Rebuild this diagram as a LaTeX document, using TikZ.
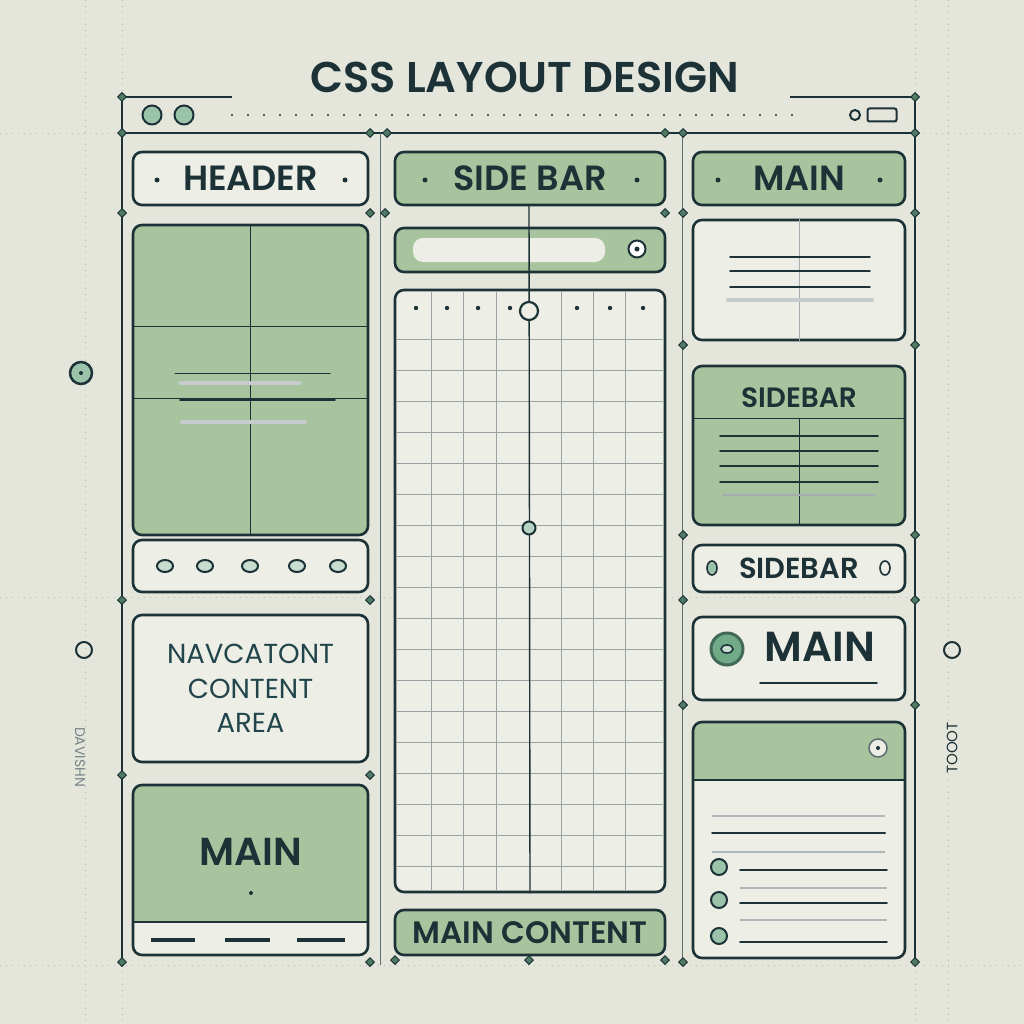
\documentclass[tikz,border=0pt]{standalone}
\usepackage{fontspec}
\setmainfont{Poppins}[BoldFont={* SemiBold}]
\usetikzlibrary{positioning, shapes.geometric, backgrounds, calc}
\definecolor{paper}{RGB}{228,230,220}
\definecolor{panelw}{RGB}{237,238,230}
\definecolor{sage}{RGB}{168,196,158}
\definecolor{ink}{RGB}{28,50,54}
\definecolor{leaf}{RGB}{112,170,134}
\definecolor{tealtxt}{RGB}{33,69,74}

\tikzset{
  box/.style={draw=ink, line width=2.6pt, rounded corners=9pt, inner sep=0pt},
  wbox/.style={box, fill=panelw},
  gbox/.style={box, fill=sage},
  lbl/.style={text=ink, font=\bfseries\fontsize{#1}{#1}\selectfont},
  guide/.style={gray!55, line width=0.8pt, dash pattern=on 1pt off 5pt},
  pin/.style={diamond, draw=ink, fill=leaf!60!ink, minimum size=9pt, inner sep=0pt, line width=1pt},
  bullet/.style={circle, draw=ink, fill=leaf!70, line width=2pt, minimum size=16pt, inner sep=0pt},
  txtline/.style={ink, line width=1.6pt, line cap=round},
  blurline/.style={ink!25, line width=4pt, line cap=round}
}

\begin{document}
\begin{tikzpicture}[x=1pt, y=-1pt]
  \fill[paper] (0,0) rectangle (1024,1024);
  \useasboundingbox (0,0) rectangle (1024,1024);

  % Guides
  \foreach \gx in {85,122,915,948} \draw[guide] (\gx,0) -- (\gx,1024);
  \foreach \gy in {133,597,965} \draw[guide] (0,\gy) -- (1024,\gy);

  % Frame
  \draw[ink, line width=1.6pt] (122,97) -- (122,965) (915,97) -- (915,965);
  \draw[ink, line width=2.4pt] (122,97) -- (232,97) (790,97) -- (915,97);
  \draw[ink, line width=2.2pt] (122,133) -- (915,133);
  \draw[ink!70, line width=1pt] (380,133) -- (380,965) (682,133) -- (682,965);
  \node[lbl=43] (title) at (525,77) {CSS LAYOUT DESIGN};

  % Browser bar
  \node[bullet, minimum size=19pt] (win1) at (152,115) {};
  \node[bullet, minimum size=19pt] (win2) at (184,115) {};
  \draw[ink, line width=2.2pt, dash pattern=on 0pt off 16pt, line cap=round] (232,115) -- (800,115);
  \node[circle, draw=ink, line width=2pt, minimum size=10pt, inner sep=0pt] (reload) at (855,115) {};
  \node[draw=ink, line width=2pt, rounded corners=2pt, minimum width=29pt, minimum height=13pt, inner sep=0pt] (tabs) at (882,115) {};

  % Left column
  \node[wbox, minimum width=235pt, minimum height=53pt, lbl=35] (header) at (250.5,178.5) {HEADER};
  \fill[ink] (157,180) circle (2.5) (345,180) circle (2.5);
  \node[gbox, minimum width=235pt, minimum height=310pt] (hero) at (250.5,380) {};
  \draw[ink, line width=0.8pt] (hero.north) -- (hero.south) (133,326) -- (368,326) (133,398) -- (368,398);
  \draw[txtline, line width=1pt] (175,373) -- (330,373);
  \draw[blurline] (180,383) -- (300,383);
  \draw[txtline] (180,400) -- (335,400);
  \draw[blurline] (182,422) -- (305,422);
  \node[wbox, minimum width=235pt, minimum height=52pt] (toolbar) at (250.5,566) {};
  \foreach \ix [count=\k] in {165,205,250,297,338}
    \node[ellipse, draw=ink, fill=leaf!40, line width=2pt, minimum width=16pt, minimum height=12pt, inner sep=0pt] (tool\k) at (\ix,566) {};
  \node[wbox, minimum width=235pt, minimum height=147pt, align=center, text=tealtxt,
    font=\fontsize{27.5}{34.5}\selectfont] (nav) at (250.5,688.5) {NAVCATONT\\CONTENT\\AREA};
  \begin{scope}
    \clip[rounded corners=9pt] (133,785) rectangle (368,955);
    \fill[panelw] (133,785) rectangle (368,955);
    \fill[sage] (133,785) rectangle (368,922);
  \end{scope}
  \node[box, minimum width=235pt, minimum height=170pt] (leftmain) at (250.5,870) {};
  \draw[ink, line width=2.2pt] (133,922) -- (368,922);
  \node[lbl=39] (leftmaintxt) at (251,852) {MAIN};
  \fill[ink] (251,893) circle (2);
  \foreach \a/\b in {151/195,225/270,297/345} \draw[ink, line width=3.5pt] (\a,940) -- (\b,940);

  % Middle column
  \node[gbox, minimum width=270pt, minimum height=53pt, lbl=35] (sidehdr) at (530,178.5) {SIDE BAR};
  \fill[ink] (425,180) circle (2.5) (637,180) circle (2.5);
  \node[gbox, minimum width=270pt, minimum height=44pt] (search) at (530,250) {};
  \fill[panelw, rounded corners=10pt] (413,238) rectangle (605,262);
  \node[circle, draw=ink, fill=white, line width=2pt, minimum size=17pt, inner sep=0pt] (go) at (637,249) {};
  \fill[ink] (go) circle (2.5);
  \node[wbox, minimum width=270pt, minimum height=602pt] (grid) at (530,591) {};
  \foreach \cx in {431,463,496,561,593,625} \draw[ink!45, line width=0.7pt] (\cx,292) -- (\cx,890);
  \foreach \r in {0,...,17} \draw[ink!45, line width=0.7pt] (397,339+31*\r) -- (663,339+31*\r);
  \foreach \dx in {416,447,478,510,577,610,643} \fill[ink] (\dx,308) circle (2.2);
  \draw[ink, line width=1.4pt] (529,205) -- (grid.south);
  \node[circle, draw=ink, fill=panelw, line width=2.2pt, minimum size=18pt, inner sep=0pt] (gridtop) at (529,311) {};
  \node[circle, draw=ink, fill=leaf!50, line width=2pt, minimum size=13pt, inner sep=0pt] (gridmid) at (529,528) {};
  \node[gbox, minimum width=270pt, minimum height=45pt, lbl=31] (maincontent) at (530,932.5) {MAIN CONTENT};

  % Right column
  \node[gbox, minimum width=212pt, minimum height=53pt, lbl=35] (mainhdr) at (799,178.5) {MAIN};
  \fill[ink] (718,180) circle (2.5) (880,180) circle (2.5);
  \node[wbox, minimum width=212pt, minimum height=120pt] (textcard) at (799,280) {};
  \draw[ink!40, line width=0.6pt] (textcard.north) -- (textcard.south);
  \foreach \ly in {257,271,287} \draw[txtline] (730,\ly) -- (870,\ly);
  \draw[blurline] (728,300) -- (872,300);
  \node[gbox, minimum width=212pt, minimum height=159pt] (sidecard) at (799,445.5) {};
  \node[lbl=28] (sidecardtxt) at (799,398) {SIDEBAR};
  \draw[ink, line width=1pt] (693,418) -- (905,418) (799,418) -- (sidecard.south);
  \foreach \ly in {436,451,466,482} \draw[txtline] (720,\ly) -- (878,\ly);
  \draw[ink!40, line width=2pt] (722,495) -- (876,495);
  \node[wbox, minimum width=212pt, minimum height=47pt, lbl=29] (sidepill) at (799,568.5) {SIDEBAR};
  \node[ellipse, draw=ink, fill=leaf!70, line width=1.6pt, minimum width=10pt, minimum height=14pt, inner sep=0pt] (dropl) at (712,568) {};
  \node[ellipse, draw=ink, fill=panelw, line width=1.6pt, minimum width=10pt, minimum height=14pt, inner sep=0pt] (dropr) at (885,568) {};
  \node[wbox, minimum width=212pt, minimum height=83pt] (mainbox) at (799,658.5) {};
  \node[circle, draw=leaf!45!ink, fill=leaf, line width=3pt, minimum size=32pt, inner sep=0pt] (mainicon) at (727,649) {};
  \node[ellipse, draw=ink, fill=leaf!40, line width=1.6pt, minimum width=12pt, minimum height=8pt, inner sep=0pt] (mainiconc) at (mainicon) {};
  \node[lbl=42, anchor=center] (mainboxtxt) at (820,647) {MAIN};
  \draw[txtline] (760,683) -- (877,683);
  \begin{scope}
    \clip[rounded corners=9pt] (693,722) rectangle (905,958);
    \fill[panelw] (693,722) rectangle (905,958);
    \fill[sage] (693,722) rectangle (905,780);
  \end{scope}
  \node[box, minimum width=212pt, minimum height=236pt] (listcard) at (799,840) {};
  \draw[ink, line width=2pt] (693,780) -- (905,780);
  \node[circle, draw=ink!70, fill=panelw, line width=1.6pt, minimum size=18pt, inner sep=0pt] (close) at (878,748) {};
  \fill[ink] (close) circle (2);
  \draw[ink!35, line width=2pt] (712,816) -- (885,816) (712,852) -- (885,852);
  \draw[txtline, line width=2pt] (712,833) -- (885,833);
  \foreach \by/\ly [count=\k] in {867/870,900/903,936/942} {
    \node[bullet] (item\k) at (719,\by) {};
    \draw[txtline] (740,\ly) -- (887,\ly);
  }
  \draw[ink!35, line width=1.6pt] (740,888) -- (887,888) (740,920) -- (887,920);

  % Markers
  \foreach \p [count=\k] in {(122,97),(915,97),(122,133),(915,133),(370,133),(387,133),(665,133),(683,133),
    (122,213),(370,213),(385,213),(665,213),(683,213),(915,213),(122,600),(370,600),(122,775),(370,775),
    (683,345),(915,345),(683,535),(915,535),(683,600),(915,600),(683,705),(915,705),
    (122,962),(370,962),(395,960),(529,960),(665,960),(683,962),(915,962)}
    \node[pin] (pin\k) at \p {};

  % Margins
  \node[bullet, minimum size=22pt, line width=2.5pt] (lefttop) at (81,373) {};
  \fill[ink] (lefttop) circle (2);
  \node[circle, draw=ink, line width=2pt, minimum size=16pt, inner sep=0pt] (leftring) at (84,650) {};
  \node[circle, draw=ink, line width=2pt, minimum size=16pt, inner sep=0pt] (rightring) at (952,650) {};
  \node[rotate=-90, text=ink!60, font=\fontsize{14}{14}\selectfont] (leftnote) at (80,757) {DAVISHN};
  \node[rotate=90, text=ink, font=\fontsize{15}{15}\selectfont] (rightnote) at (952,748) {TOOOT};
\end{tikzpicture}
\end{document}
